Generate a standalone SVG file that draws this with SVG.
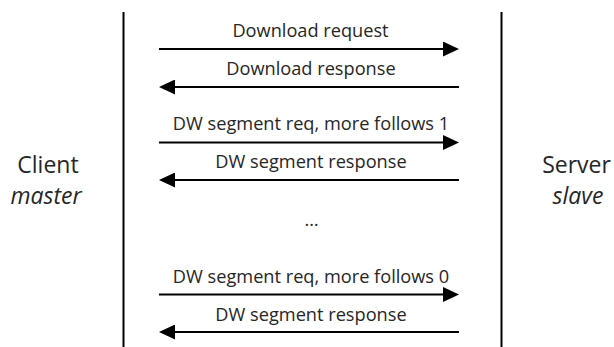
<svg xmlns="http://www.w3.org/2000/svg" width="614" height="347" viewBox="0 0 614 347">
  <style>
    .lbl { font-family: "Open Sans", "Liberation Sans", sans-serif; font-weight: 400; font-size: 18.2px; fill: #262626; }
    .side { font-size: 23px; }
    .mid { text-anchor: middle; }
    .it { font-style: italic; }
    .life { stroke: #000; stroke-width: 2; fill: none; }
    .msg { stroke: #000; stroke-width: 2; fill: none; marker-end: url(#head); }
  </style>
  <defs>
    <marker id="head" markerUnits="userSpaceOnUse" markerWidth="16" markerHeight="15" refX="2" refY="7.5" orient="auto">
      <path d="M0,0 L16,7.5 L0,15 Z" fill="#000"/>
    </marker>
  </defs>
  <rect width="614" height="347" fill="#fff"/>

  <!-- client side -->
  <g id="client">
    <line class="life" x1="123.5" y1="12" x2="123.5" y2="347"/>
    <text class="lbl side mid" x="48" y="173">Client</text>
    <text class="lbl side mid it" x="46" y="204">master</text>
  </g>

  <!-- server side -->
  <g id="server">
    <line class="life" x1="501.5" y1="12" x2="501.5" y2="347"/>
    <text class="lbl side mid" x="576.5" y="173">Server</text>
    <text class="lbl side mid it" x="578" y="204">slave</text>
  </g>

  <!-- message exchange -->
  <g id="connectors">
    <g id="msg-download-req">
      <line class="msg" x1="159" y1="49" x2="445" y2="49"/>
      <text class="lbl mid" x="310.5" y="37">Download request</text>
    </g>
    <g id="msg-download-resp">
      <line class="msg" x1="459" y1="87" x2="173" y2="87"/>
      <text class="lbl mid" x="311" y="75">Download response</text>
    </g>
    <g id="msg-seg-req-1">
      <line class="msg" x1="159" y1="142.5" x2="445" y2="142.5"/>
      <text class="lbl mid" x="311" y="130">DW segment req, more follows 1</text>
    </g>
    <g id="msg-seg-resp-1">
      <line class="msg" x1="459" y1="180" x2="173" y2="180"/>
      <text class="lbl mid" x="311" y="168">DW segment response</text>
    </g>
    <text class="lbl mid" x="311.5" y="226">…</text>
    <g id="msg-seg-req-0">
      <line class="msg" x1="159" y1="294.5" x2="445" y2="294.5"/>
      <text class="lbl mid" x="311" y="282.5">DW segment req, more follows 0</text>
    </g>
    <g id="msg-seg-resp-0">
      <line class="msg" x1="459" y1="332" x2="173" y2="332"/>
      <text class="lbl mid" x="311" y="320.5">DW segment response</text>
    </g>
  </g>
</svg>
